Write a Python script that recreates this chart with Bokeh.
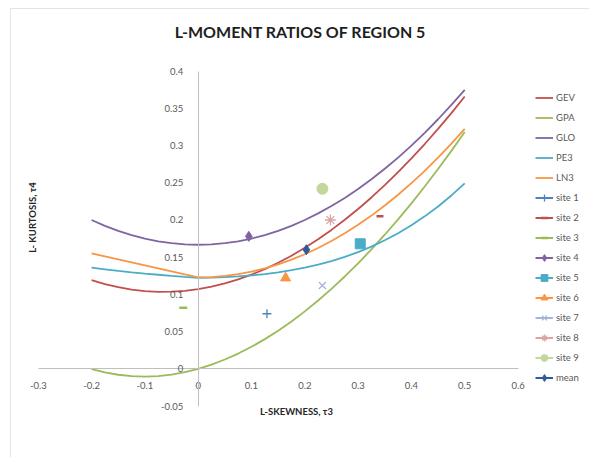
from bokeh.plotting import figure
from bokeh.models import (Legend, LegendItem, Label, NumeralTickFormatter,
                          FixedTicker, BoxAnnotation, Range1d)
from bokeh.embed import file_html
from bokeh.resources import INLINE

# L-skewness grid for the theoretical distribution curves
tau3 = [-0.2, -0.175, -0.15, -0.125, -0.1, -0.075, -0.05, -0.025, 0.0, 0.025,
        0.05, 0.075, 0.1, 0.125, 0.15, 0.175, 0.2, 0.225, 0.25, 0.275,
        0.3, 0.325, 0.35, 0.375, 0.4, 0.425, 0.45, 0.475, 0.5]

# L-kurtosis of each three-parameter distribution
gev = [0.1192, 0.1139, 0.1097, 0.1065, 0.1044, 0.1035, 0.1036, 0.1048, 0.1070, 0.1103,
       0.1147, 0.1201, 0.1265, 0.1340, 0.1425, 0.1520, 0.1626, 0.1741, 0.1867, 0.2003,
       0.2148, 0.2303, 0.2468, 0.2643, 0.2827, 0.3021, 0.3224, 0.3437, 0.3659]
gpa = [-0.0004, -0.0049, -0.0080, -0.0099, -0.0104, -0.0097, -0.0077, -0.0045, 0.0000, 0.0057,
       0.0125, 0.0205, 0.0296, 0.0399, 0.0512, 0.0637, 0.0772, 0.0918, 0.1075, 0.1241,
       0.1418, 0.1605, 0.1802, 0.2008, 0.2224, 0.2450, 0.2685, 0.2929, 0.3182]
glo = [0.2000, 0.1922, 0.1854, 0.1797, 0.1750, 0.1714, 0.1688, 0.1672, 0.1667, 0.1672,
       0.1688, 0.1714, 0.1750, 0.1797, 0.1854, 0.1922, 0.2000, 0.2089, 0.2188, 0.2297,
       0.2417, 0.2547, 0.2688, 0.2839, 0.3000, 0.3172, 0.3354, 0.3547, 0.3750]
pe3 = [0.1359, 0.1337, 0.1315, 0.1297, 0.1280, 0.1264, 0.1248, 0.1235, 0.1224, 0.1226,
       0.1232, 0.1241, 0.1255, 0.1273, 0.1297, 0.1325, 0.1359, 0.1400, 0.1448, 0.1504,
       0.1569, 0.1642, 0.1727, 0.1822, 0.1929, 0.2049, 0.2182, 0.2330, 0.2493]
ln3 = [0.1550, 0.1510, 0.1470, 0.1430, 0.1390, 0.1350, 0.1310, 0.1268, 0.1228, 0.1233,
       0.1248, 0.1272, 0.1306, 0.1350, 0.1403, 0.1467, 0.1540, 0.1624, 0.1717, 0.1821,
       0.1935, 0.2059, 0.2194, 0.2339, 0.2495, 0.2660, 0.2839, 0.3027, 0.3226]

dist_names = ["GEV", "GPA", "GLO", "PE3", "LN3"]
dist_values = [gev, gpa, glo, pe3, ln3]
dist_colors = ["#C0504D", "#9BBB59", "#8064A2", "#4BACC6", "#F79646"]

# Sample L-moment ratios of the sites and the regional mean
site_names = ["site 1", "site 2", "site 3", "site 4", "site 5", "site 6",
              "site 7", "site 8", "site 9", "mean"]
site_t3 = [0.129, 0.341, -0.028, 0.095, 0.304, 0.164, 0.233, 0.248, 0.233, 0.203]
site_t4 = [0.074, 0.205, 0.082, 0.178, 0.168, 0.122, 0.112, 0.200, 0.242, 0.160]
site_colors = ["#4F81BD", "#C0504D", "#9BBB59", "#8064A2", "#4BACC6", "#F79646",
               "#A7B4DA", "#DDA3A2", "#C3D69B", "#2F5C99"]
site_markers = ["cross", "dash", "dash", "diamond", "square", "triangle",
                "x", "asterisk", "circle", "diamond"]
site_sizes = [9, 7, 8, 10, 10, 10, 10, 11, 11, 10]

x_ticks = [-0.3, -0.2, -0.1, 0.0, 0.1, 0.2, 0.3, 0.4, 0.5, 0.6]
y_ticks = [-0.05, 0.0, 0.05, 0.1, 0.15, 0.2, 0.25, 0.3, 0.35, 0.4]

FONT = "Lato"
TEXT = "#595959"
AXIS = "#BFBFBF"
W, H = 589, 457

# The frame fills the whole canvas; the visible ranges leave room around the
# plotted area for the title, axis titles and legend.
p = figure(width=W, height=H, output_backend="svg", toolbar_location=None,
           title=None,
           x_range=Range1d(-0.3709, 0.7341), y_range=Range1d(-0.1192, 0.4950),
           min_border=0, min_border_left=0, min_border_right=0,
           min_border_top=0, min_border_bottom=0)
p.outline_line_color = None
p.background_fill_color = "white"
p.border_fill_color = "white"
p.xgrid.visible = False
p.ygrid.visible = False

# Axes cross at the origin
for ax, ticks in ((p.xaxis, x_ticks), (p.yaxis, y_ticks)):
    ax.fixed_location = 0
    ax.bounds = (ticks[0], ticks[-1])
    ax.ticker = FixedTicker(ticks=ticks)
    ax.formatter = NumeralTickFormatter(format="0.[00]")
    ax.axis_line_color = AXIS
    ax.axis_line_width = 1
    ax.major_tick_line_color = None
    ax.minor_tick_line_color = None
    ax.major_label_text_font = FONT
    ax.major_label_text_font_size = "9.5px"
    ax.major_label_text_color = TEXT
p.xaxis.major_label_standoff = 7
p.yaxis.major_label_standoff = 9

items = []
for name, vals, col in zip(dist_names, dist_values, dist_colors):
    r = p.line(tau3, vals, line_color=col, line_width=1.8)
    items.append(LegendItem(label=name, renderers=[r]))

for name, sx, sy, col, mk, sz in zip(site_names, site_t3, site_t4, site_colors,
                                      site_markers, site_sizes):
    # zero-length line at the point: invisible in the plot, gives the legend key its line
    key = p.line([sx, sx], [sy, sy], line_color=col, line_width=2)
    lw = 2.5 if mk == "dash" else (1.3 if mk in ("cross", "x", "asterisk") else 1)
    r = p.scatter([sx], [sy], marker=mk, size=sz, fill_color=col, line_color=col,
                  line_width=lw)
    items.append(LegendItem(label=name, renderers=[key, r]))

legend = Legend(items=items, location=(535, 71.5), orientation="vertical",
                glyph_width=18, glyph_height=17, label_height=17, spacing=3,
                label_standoff=3, padding=0, margin=0,
                border_line_color=None, background_fill_alpha=0,
                label_text_font=FONT, label_text_font_size="9.5px",
                label_text_color=TEXT)
p.add_layout(legend)

# Chart title and axis titles
p.add_layout(Label(x=300, y=H - 31, x_units="screen", y_units="screen",
                   text="L-MOMENT RATIOS OF REGION 5", text_font=FONT,
                   text_font_size="16px", text_font_style="bold",
                   text_color="#1F1F1F", text_align="center", text_baseline="middle"))
p.add_layout(Label(x=296, y=H - 410.5, x_units="screen", y_units="screen",
                   text="L-SKEWNESS, τ3", text_font=FONT, text_font_size="9.5px",
                   text_font_style="bold", text_color="#262626",
                   text_align="center", text_baseline="middle"))
p.add_layout(Label(x=32, y=H - 217, x_units="screen", y_units="screen",
                   text="L- KURTOSIS, τ4", angle=90, angle_units="deg",
                   text_font=FONT, text_font_size="9.5px", text_font_style="bold",
                   text_color="#262626", text_align="center", text_baseline="middle"))

# Chart area border
p.add_layout(BoxAnnotation(left=10, right=W + 20, top=H - 8, bottom=-20,
                           left_units="screen", right_units="screen",
                           top_units="screen", bottom_units="screen",
                           fill_alpha=0, line_color="#A6A6A6", line_width=1))

open("out.html", "w").write(file_html(p, INLINE))
